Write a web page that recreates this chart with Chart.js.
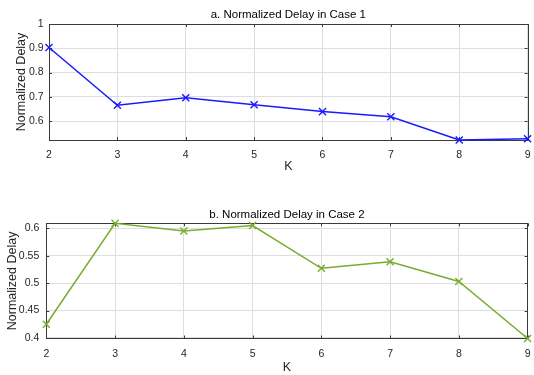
<!DOCTYPE html>
<html><head><meta charset="utf-8">
<script src="https://cdn.jsdelivr.net/npm/chart.js@4"></script>
<style>
html,body{margin:0;padding:0;background:#fff;width:534px;height:375px;overflow:hidden}
.box{position:absolute;left:0;width:534px}
#a{top:0;height:188px}
#b{top:188px;height:187px}
</style></head><body>
<div class="box" id="a"><canvas id="c1"></canvas></div>
<div class="box" id="b"><canvas id="c2"></canvas></div>
<script>
const kValues = ['2','3','4','5','6','7','8','9'];
const delayCase1 = [0.903, 0.665, 0.696, 0.667, 0.639, 0.618, 0.522, 0.527];
const delayCase2 = [0.425, 0.609, 0.595, 0.605, 0.527, 0.539, 0.503, 0.399];
const yTicksCase1 = [0.6, 0.7, 0.8, 0.9, 1];
const yTicksCase2 = [0.4, 0.45, 0.5, 0.55, 0.6];
const titleCase1 = 'a. Normalized Delay in Case 1';
const titleCase2 = 'b. Normalized Delay in Case 2';

const FONT = '"Liberation Sans", Arial, Helvetica, sans-serif';
const AXIS = '#262626';

const boxPlugin = {
  id: 'boxPlugin',
  beforeDatasetsDraw(chart) {
    const {ctx, chartArea: a, scales} = chart;
    ctx.save();
    ctx.strokeStyle = '#3a3a3a';
    ctx.lineWidth = 1;
    ctx.beginPath();
    const L = 3;
    scales.x.ticks.forEach((t, i) => {
      const x = Math.round(scales.x.getPixelForTick(i)) + 0.5;
      ctx.moveTo(x, a.bottom); ctx.lineTo(x, a.bottom - L);
      ctx.moveTo(x, a.top); ctx.lineTo(x, a.top + L);
    });
    scales.y.ticks.forEach(t => {
      const y = Math.round(scales.y.getPixelForValue(t.value)) + 0.5;
      ctx.moveTo(a.left, y); ctx.lineTo(a.left + L, y);
      ctx.moveTo(a.right, y); ctx.lineTo(a.right - L, y);
    });
    ctx.stroke();
    ctx.strokeRect(Math.round(a.left) + 0.5, Math.round(a.top) + 0.5,
      Math.round(a.right - a.left), Math.round(a.bottom - a.top));
    ctx.restore();
  }
};

function makeChart(id, title, values, color, yTicks, yMin, yMax, g) {
  return new Chart(document.getElementById(id), {
    type: 'line',
    data: {
      labels: kValues,
      datasets: [{
        data: values,
        borderColor: color,
        backgroundColor: color,
        borderWidth: 1.5,
        pointStyle: 'crossRot',
        pointRadius: 5,
        pointBorderWidth: 1.4,
        pointHoverRadius: 5,
        tension: 0,
        clip: false
      }]
    },
    options: {
      responsive: true,
      maintainAspectRatio: false,
      animation: false,
      events: [],
      layout: {padding: {left: 0, right: 4, top: 0, bottom: 0}},
      plugins: {
        legend: {display: false},
        tooltip: {enabled: false},
        title: {
          display: true, text: title, fullSize: false,
          color: '#000',
          font: {family: FONT, size: 11.5, weight: 'normal', lineHeight: 1.2},
          padding: {top: g.tPadTop, bottom: g.tPadBottom}
        }
      },
      scales: {
        x: {
          type: 'category',
          offset: false,
          grid: {color: '#dedede', drawTicks: false, offset: false},
          border: {display: false},
          ticks: {color: AXIS, font: {family: FONT, size: 10.5}, padding: g.xTickPad, maxRotation: 0, autoSkip: false},
          title: {display: true, text: 'K', color: AXIS,
            font: {family: FONT, size: 12.5, lineHeight: 1.2},
            padding: {top: 0, bottom: g.xTitlePad}},
          afterFit(s) { s.height = g.xHeight; s.paddingLeft = 0; s.paddingRight = 0; }
        },
        y: {
          min: yMin, max: yMax,
          grid: {color: '#dedede', drawTicks: false},
          border: {display: false},
          afterBuildTicks(s) { s.ticks = yTicks.map(v => ({value: v})); },
          ticks: {color: AXIS, font: {family: FONT, size: 10.5}, padding: g.yTickPad,
            callback: v => String(Number(v.toFixed(3)))},
          title: {display: true, text: 'Normalized Delay', color: AXIS,
            font: {family: FONT, size: 12.5, lineHeight: 1.2},
            padding: {top: g.yTitlePad, bottom: 0}},
          afterFit(s) { s.width = g.yWidth; s.paddingTop = 0; s.paddingBottom = 0; }
        }
      }
    },
    plugins: [boxPlugin]
  });
}

makeChart('c1', titleCase1, delayCase1, '#1a1aff', yTicksCase1, 0.522, 1,
  {tPadTop: 8.1, tPadBottom: 2.1, xHeight: 48, xTickPad: 9, xTitlePad: 13.5, yWidth: 49, yTickPad: 5.5, yTitlePad: 14.5});
makeChart('c2', titleCase2, delayCase2, '#77ac30', yTicksCase2, 0.399, 0.609,
  {tPadTop: 20.1, tPadBottom: 1.4, xHeight: 36.5, xTickPad: 9.5, xTitlePad: 0, yWidth: 46.3, yTickPad: 7, yTitlePad: 5.5});
</script>
</body></html>
